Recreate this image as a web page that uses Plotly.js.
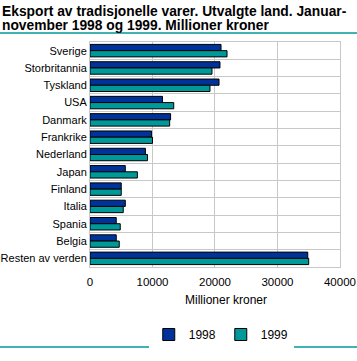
<!DOCTYPE html>
<html><head><meta charset="utf-8">
<script src="https://cdn.plot.ly/plotly-3.0.1.min.js"></script>
<style>html,body{margin:0;padding:0;background:#fff}</style>
</head><body>
<div id="chart" style="width:357px;height:361px"></div>
<script>
const categories = ["Sverige","Storbritannia","Tyskland","USA","Danmark","Frankrike","Nederland","Japan","Finland","Italia","Spania","Belgia","Resten av verden"];
const values1998 = [20970, 20800, 20650, 11600, 12900, 9850, 8870, 5650, 5000, 5650, 4200, 4200, 34850];
const values1999 = [21930, 19520, 19200, 13400, 12750, 10000, 9200, 7580, 5000, 5320, 4840, 4680, 35000];
const xTicks = [0, 10000, 20000, 30000, 40000];
const seriesNames = ["1998", "1999"];
const titleLines = ["Eksport av tradisjonelle varer. Utvalgte land. Januar-", "november 1998 og 1999. Millioner kroner"];

const font = "Liberation Sans, Arial, sans-serif";
const data = [
  {type:"bar", orientation:"h", name:seriesNames[0], y:categories, x:values1998,
   marker:{color:"#003399", line:{color:"#000", width:1}}},
  {type:"bar", orientation:"h", name:seriesNames[1], y:categories, x:values1999,
   marker:{color:"#009999", line:{color:"#000", width:1}}}
];
const layout = {
  width:357, height:361,
  margin:{l:90, r:17, t:42, b:85},
  paper_bgcolor:"#fff", plot_bgcolor:"#fff",
  font:{family:font, size:12, color:"#000"},
  barmode:"group", bargap:0.28, bargroupgap:0,
  xaxis:{range:[0,40010], tickvals:xTicks, ticktext:xTicks.map(String), showgrid:true, gridcolor:"#c8c8c8",
         showline:true, linecolor:"#c8c8c8", mirror:true, zeroline:false, ticks:"", ticklabelstandoff:4,
         tickfont:{family:font, size:11.5}},
  yaxis:{autorange:"reversed", showline:true, linecolor:"#c8c8c8", mirror:true, ticks:"", tickson:"boundaries",
         showgrid:true, gridcolor:"#c8c8c8", tickfont:{family:font, size:11}},
  legend:{orientation:"h", x:0.235, xanchor:"left", y:-0.30, yanchor:"middle", font:{family:font, size:12}, itemwidth:30},
  annotations:[
    {text:"<b>" + titleLines[0] + "</b>", xref:"paper", yref:"paper", x:-0.36, y:1.178, xanchor:"left", yanchor:"top",
     showarrow:false, font:{family:font, size:13.8}},
    {text:"<b>" + titleLines[1] + "</b>", xref:"paper", yref:"paper", x:-0.36, y:1.115, xanchor:"left", yanchor:"top",
     showarrow:false, font:{family:font, size:13.8}},
    {text:"Millioner kroner", xref:"paper", yref:"paper", x:0.544, y:-0.145, xanchor:"center", yanchor:"middle",
     showarrow:false, font:{family:font, size:12}}
  ],
  shapes:[
    {type:"line", xref:"paper", yref:"paper", x0:-0.36, x1:1.07, y0:1.04, y1:1.04, line:{color:"#009999", width:1.5}},
    {type:"line", xref:"paper", yref:"paper", x0:-0.36, x1:1.07, y0:-0.355, y1:-0.355, line:{color:"#009999", width:1.5}}
  ]
};
Plotly.newPlot("chart", data, layout, {displayModeBar:false, staticPlot:true});
</script>
</body></html>
